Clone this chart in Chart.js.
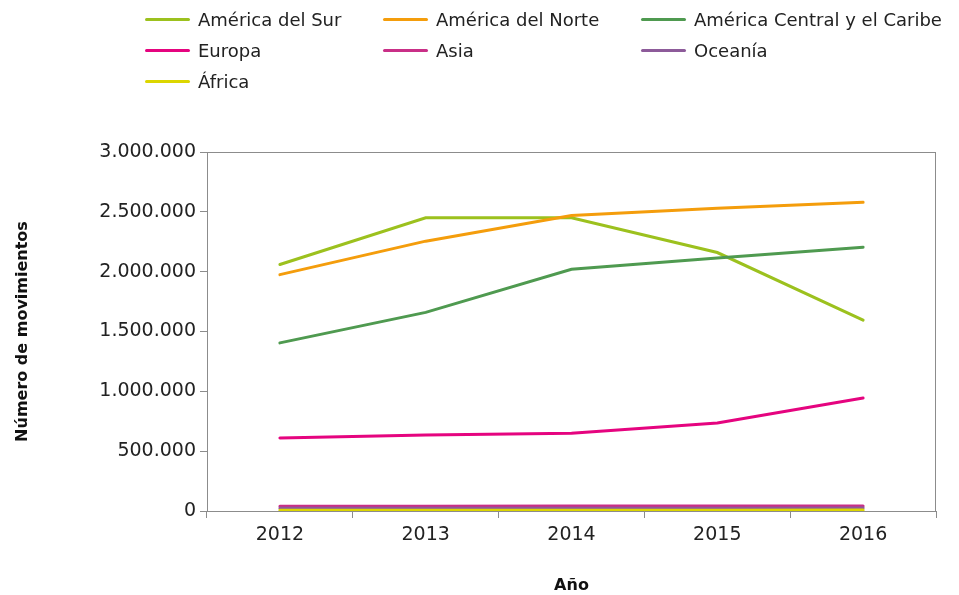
<!DOCTYPE html>
<html>
<head>
<meta charset="utf-8">
<script src="https://cdn.jsdelivr.net/npm/chart.js@4"></script>
<style>
  body { margin: 0; background: #fff; font-family: "DejaVu Sans", sans-serif; }
  #wrap { position: relative; width: 959px; height: 595px; }
  #legend { position: absolute; left: 145px; top: 5px; display: grid;
            grid-template-columns: 238px 258px 300px; row-gap: 2px; }
  #legend div { display: flex; align-items: center; height: 29px; font-size: 18px; color: #222; white-space: nowrap; }
  #legend span.sw { display: inline-block; width: 45px; height: 3px; border-radius: 2px; margin-right: 8px; flex: none; }
  canvas { position: absolute; left: 0; top: 0; }
</style>
</head>
<body>
<div id="wrap">
  <canvas id="myChart" width="959" height="595"></canvas>
  <div id="legend"></div>
</div>
<script>
const years = ['2012', '2013', '2014', '2015', '2016'];

const americaSur = [2060000, 2450000, 2450000, 2160000, 1595000];
const americaNorte = [1975000, 2255000, 2470000, 2530000, 2580000];
const americaCentral = [1405000, 1660000, 2020000, 2115000, 2205000];
const europa = [610000, 635000, 650000, 735000, 945000];
const asia = [40000, 40000, 42000, 42000, 42000];
const oceania = [22000, 22000, 24000, 24000, 25000];
const africa = [6000, 6000, 7000, 7000, 8000];

const seriesNames = ['América del Sur', 'América del Norte', 'América Central y el Caribe',
    'Europa', 'Asia', 'Oceanía', 'África'];
const seriesValues = [americaSur, americaNorte, americaCentral, europa, asia, oceania, africa];
const seriesColors = ['#9cc11e', '#f49d0c', '#4f9a50', '#e5047f', '#c92f87', '#8d5b9a', '#dcd600'];

const yTicks = [0, 500000, 1000000, 1500000, 2000000, 2500000, 3000000];

// dotted thousands like 1.500.000
const fmt = (v) => String(v).replace(/\B(?=(\d{3})+(?!\d))/g, '.');

const frameBox = {
    id: 'frameBox',
    beforeDatasetsDraw(chart) {
        const a = chart.chartArea;
        const ctx = chart.ctx;
        ctx.save();
        ctx.strokeStyle = '#8c8c8c';
        ctx.lineWidth = 1;
        ctx.strokeRect(a.left + 0.5, a.top + 0.5, a.right - a.left - 1, a.bottom - a.top);
        ctx.restore();
    }
};

const datasets = seriesNames.map((name, i) => ({
    label: name,
    data: seriesValues[i],
    borderColor: seriesColors[i],
    backgroundColor: seriesColors[i],
    borderWidth: 3,
    pointRadius: 0,
    tension: 0,
    borderCapStyle: 'round'
}));
// draw the small series first so the larger ones sit on top
datasets.reverse();

let htmlStr = '';
seriesNames.forEach((name, i) => {
    htmlStr += `<div><span class="sw" style="background:${seriesColors[i]}"></span>${name}</div>`;
});
document.getElementById('legend').innerHTML = htmlStr;

const tickFont = { family: 'DejaVu Sans', size: 19 };
const titleFont = { family: 'DejaVu Sans', size: 16, weight: 'bold' };

const ctx = document.getElementById('myChart').getContext('2d');
new Chart(ctx, {
    type: 'line',
    data: { labels: years, datasets: datasets },
    plugins: [frameBox],
    options: {
        responsive: false,
        animation: false,
        layout: { padding: { top: 152, right: 23, left: 0, bottom: 0 } },
        plugins: { legend: { display: false }, tooltip: { enabled: false } },
        scales: {
            x: {
                offset: true,
                grid: { offset: true, drawOnChartArea: false, drawTicks: true, tickLength: 7, color: '#8c8c8c' },
                border: { color: '#8c8c8c' },
                ticks: { color: '#222', font: tickFont, padding: 6 },
                title: { display: true, text: 'Año', color: '#111', font: titleFont, padding: { top: 0, bottom: 0 } },
                afterFit(scale) { scale.height = 84; }
            },
            y: {
                min: 0,
                max: 3000000,
                afterBuildTicks(scale) { scale.ticks = yTicks.map(v => ({ value: v })); },
                grid: { drawOnChartArea: false, drawTicks: true, tickLength: 7, color: '#8c8c8c' },
                border: { color: '#8c8c8c' },
                ticks: { color: '#222', font: tickFont, padding: 4, callback: (v) => fmt(v) },
                title: { display: true, text: 'Número de movimientos', color: '#111', font: titleFont, padding: { top: 13, bottom: 0 } },
                afterFit(scale) { scale.width = 207; }
            }
        }
    }
});
</script>
</body>
</html>
